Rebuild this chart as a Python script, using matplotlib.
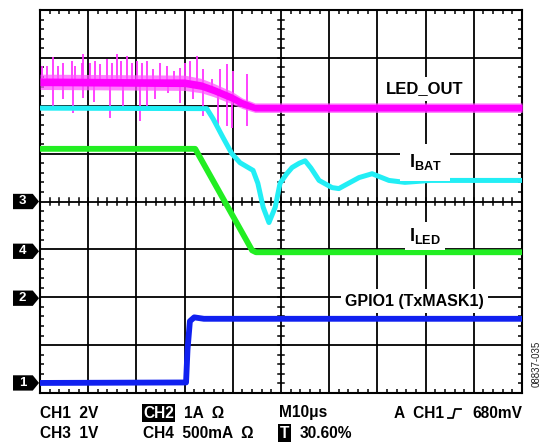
import numpy as np
import matplotlib.pyplot as plt
from matplotlib.ticker import MultipleLocator, NullFormatter
from matplotlib.patches import Polygon
from matplotlib.lines import Line2D

plt.rcParams['font.family'] = ['Liberation Sans', 'DejaVu Sans']
plt.rcParams['mathtext.fontset'] = 'custom'
plt.rcParams['mathtext.rm'] = 'Liberation Sans'
plt.rcParams['mathtext.bf'] = 'Liberation Sans:bold'

# screen is 10 x 8 divisions, values below in divisions
# LED_OUT (magenta)
led_out_x = [0, 3.0, 3.35, 3.6, 3.98, 4.2, 4.46, 10]
led_out_y = [6.50, 6.48, 6.42, 6.33, 6.17, 6.05, 5.96, 5.96]
led_out_core = [0.08, 0.08, 0.08, 0.08, 0.08, 0.08, 0.07, 0.07]
led_out_fuzz = [0.16, 0.16, 0.15, 0.14, 0.13, 0.11, 0.10, 0.10]
# glitches on LED_OUT before it settles
spike_up_x = [0.04, 0.14, 0.28, 0.38, 0.48, 0.66, 0.73, 0.87, 0.90, 1.04,
              1.14, 1.24, 1.38, 1.49, 1.59, 1.69, 1.80, 1.90, 2.01, 2.11,
              2.21, 2.35, 2.49, 2.63, 2.77, 2.90, 3.01, 3.11, 3.25, 3.39,
              3.56, 3.73, 3.87, 4.01, 4.29]
spike_up_y = [6.83, 6.83, 7.01, 6.83, 6.90, 6.94, 6.83, 6.90, 7.08, 6.90,
              6.94, 6.88, 6.98, 6.90, 7.08, 6.94, 7.04, 6.90, 6.94, 6.90,
              6.94, 6.77, 6.90, 6.83, 6.73, 6.79, 6.90, 6.94, 7.04, 6.77,
              6.56, 6.77, 6.88, 6.73, 6.67]
spike_dn_x = [0.28, 0.48, 0.69, 0.90, 1.11, 1.45, 1.73, 2.07, 2.21, 2.39,
              2.66, 2.90, 3.18, 3.39, 3.70, 3.87, 3.98, 4.29]
spike_dn_y = [6.00, 6.15, 5.85, 6.17, 6.08, 5.75, 6.00, 5.69, 5.94, 6.15,
              6.27, 6.06, 6.15, 5.79, 5.58, 5.58, 5.54, 5.58]

# IBAT (cyan)
ibat_x = [0, 3.46, 3.59, 3.80, 3.98, 4.15, 4.42, 4.52, 4.63, 4.75, 4.88, 4.98,
          5.12, 5.23, 5.38, 5.50, 5.62, 5.79, 6.06, 6.20, 6.40, 6.62, 6.89,
          7.24, 7.57, 8.1, 10]
ibat_y = [5.95, 5.94, 5.73, 5.33, 5.00, 4.81, 4.65, 4.38, 3.88, 3.56, 3.88, 4.38,
          4.58, 4.71, 4.80, 4.85, 4.70, 4.44, 4.29, 4.27, 4.38, 4.50, 4.58,
          4.44, 4.40, 4.44, 4.44]

# ILED (green)
iled_x = [0, 3.22, 4.40, 4.48, 10]
iled_y = [5.10, 5.10, 2.98, 2.94, 2.94]

# GPIO1 (blue)
gpio_x = [0, 3.03, 3.06, 3.11, 3.2, 3.4, 10]
gpio_y = [0.21, 0.22, 0.9, 1.50, 1.58, 1.55, 1.55]

# channel reference markers
ch_names = ['3', '4', '2', '1']
ch_levels = [4.0, 2.96, 1.98, 0.21]

W, H = 544, 445


def fx(px):
    return px / W


def fy(py):
    return 1 - py / H


fig = plt.figure(figsize=(W / 100, H / 100), dpi=100)
ax = fig.add_axes([40 / W, 52 / H, 482 / W, 383 / H])
ax.set_xlim(0, 10)
ax.set_ylim(0, 8)

ax.xaxis.set_major_locator(MultipleLocator(1))
ax.yaxis.set_major_locator(MultipleLocator(1))
ax.xaxis.set_minor_locator(MultipleLocator(0.2))
ax.yaxis.set_minor_locator(MultipleLocator(0.2))
ax.xaxis.set_major_formatter(NullFormatter())
ax.yaxis.set_major_formatter(NullFormatter())
ax.tick_params(which='both', direction='in', top=True, right=True,
               bottom=True, left=True, labelbottom=False, labelleft=False)
ax.tick_params(which='major', length=0)
ax.tick_params(which='minor', length=3, width=1.1, color='k')
ax.grid(which='major', color='k', lw=1.3)
ax.set_axisbelow(True)
for s in ax.spines.values():
    s.set_linewidth(1.5)

# ticks on centre lines
for v in np.arange(0.2, 10, 0.2):
    ax.plot([v, v], [4 - 0.07, 4 + 0.07], color='k', lw=1.1, zorder=1)
for v in np.arange(0.2, 8, 0.2):
    ax.plot([5 - 0.07, 5 + 0.07], [v, v], color='k', lw=1.1, zorder=1)

# LED_OUT trace: glitches, fuzzy band, solid core
lo_y = np.array(led_out_y)
up_base = np.interp(spike_up_x, led_out_x, led_out_y)
dn_base = np.interp(spike_dn_x, led_out_x, led_out_y)
ax.vlines(spike_up_x, up_base, spike_up_y, color='#FF33FF', lw=1.3, zorder=2)
ax.vlines(spike_dn_x, spike_dn_y, dn_base, color='#FF33FF', lw=1.3, zorder=2)
ax.fill_between(led_out_x, lo_y - np.array(led_out_fuzz),
                lo_y + np.array(led_out_fuzz), color='#FF55FF', alpha=0.75,
                lw=0, zorder=3)
ax.fill_between(led_out_x, lo_y - np.array(led_out_core),
                lo_y + np.array(led_out_core), color='#FF00FF', lw=0, zorder=3)

ax.plot(ibat_x, ibat_y, color='#22EEF5', lw=3.6, zorder=4,
        solid_joinstyle='round')
ax.plot(iled_x, iled_y, color='#22EE22', lw=4.2, zorder=4)
ax.plot(gpio_x, gpio_y, color='#1020F0', lw=4.2, zorder=4)

# trace labels
lab = dict(ha='center', va='center', fontweight='bold', zorder=6,
           bbox=dict(facecolor='white', edgecolor='none', pad=3))
ax.text(7.99, 6.35, 'LED_OUT', fontsize=12, **lab)
ax.text(7.99, 4.82, r'$\mathbf{I}_{\mathbf{BAT}}$', fontsize=13,
        ha='center', va='center', zorder=6,
        bbox=dict(facecolor='white', edgecolor='none', pad=6))
ax.text(7.99, 3.28, r'$\mathbf{I}_{\mathbf{LED}}$', fontsize=13,
        ha='center', va='center', zorder=6,
        bbox=dict(facecolor='white', edgecolor='none', pad=3))
ax.text(7.76, 1.92, 'GPIO1 (TxMASK1)', fontsize=11.5, **lab)

# channel markers on the left
for name, lvl in zip(ch_names, ch_levels):
    hh = 0.16
    pts = [(-0.56, lvl - hh), (-0.15, lvl - hh), (-0.02, lvl),
           (-0.15, lvl + hh), (-0.56, lvl + hh)]
    ax.add_patch(Polygon(pts, closed=True, facecolor='black',
                         edgecolor='none', clip_on=False, zorder=7))
    ax.text(-0.36, lvl, name, color='white', fontsize=9.5, fontweight='bold',
            ha='center', va='center', clip_on=False, zorder=8)

# settings read-out below the screen
tk = dict(fontsize=11.2, fontweight='bold', va='center')
r1, r2 = 413, 433
fig.text(fx(40), fy(r1), 'CH1  2V', **tk)
fig.text(fx(40), fy(r2), 'CH3  1V', **tk)
fig.text(fx(143), fy(r1), 'CH2', color='white',
         bbox=dict(facecolor='black', edgecolor='none', pad=0.8), **tk)
fig.text(fx(184), fy(r1), '1A  \u03a9', **tk)
fig.text(fx(143), fy(r2), 'CH4  500mA  \u03a9', **tk)
fig.text(fx(279), fy(r1), 'M10\u03bcs', **tk)
fig.text(fx(280), fy(r2), 'T', color='white',
         bbox=dict(facecolor='black', edgecolor='none', pad=1.3), **tk)
fig.text(fx(300), fy(r2), '30.60%', **tk)
fig.text(fx(444), fy(r1), 'A  CH1', ha='right', **tk)
fig.text(fx(522), fy(r1), '680mV', ha='right', **tk)
fig.add_artist(Line2D([fx(448), fx(453), fx(455), fx(461)],
                      [fy(418), fy(418), fy(409), fy(409)],
                      color='k', lw=1.3))

fig.text(fx(537), fy(364), '08837-035', rotation=90, fontsize=7,
         ha='center', va='center', color='#222222')

fig.savefig('out.png', dpi=100, facecolor='white')
